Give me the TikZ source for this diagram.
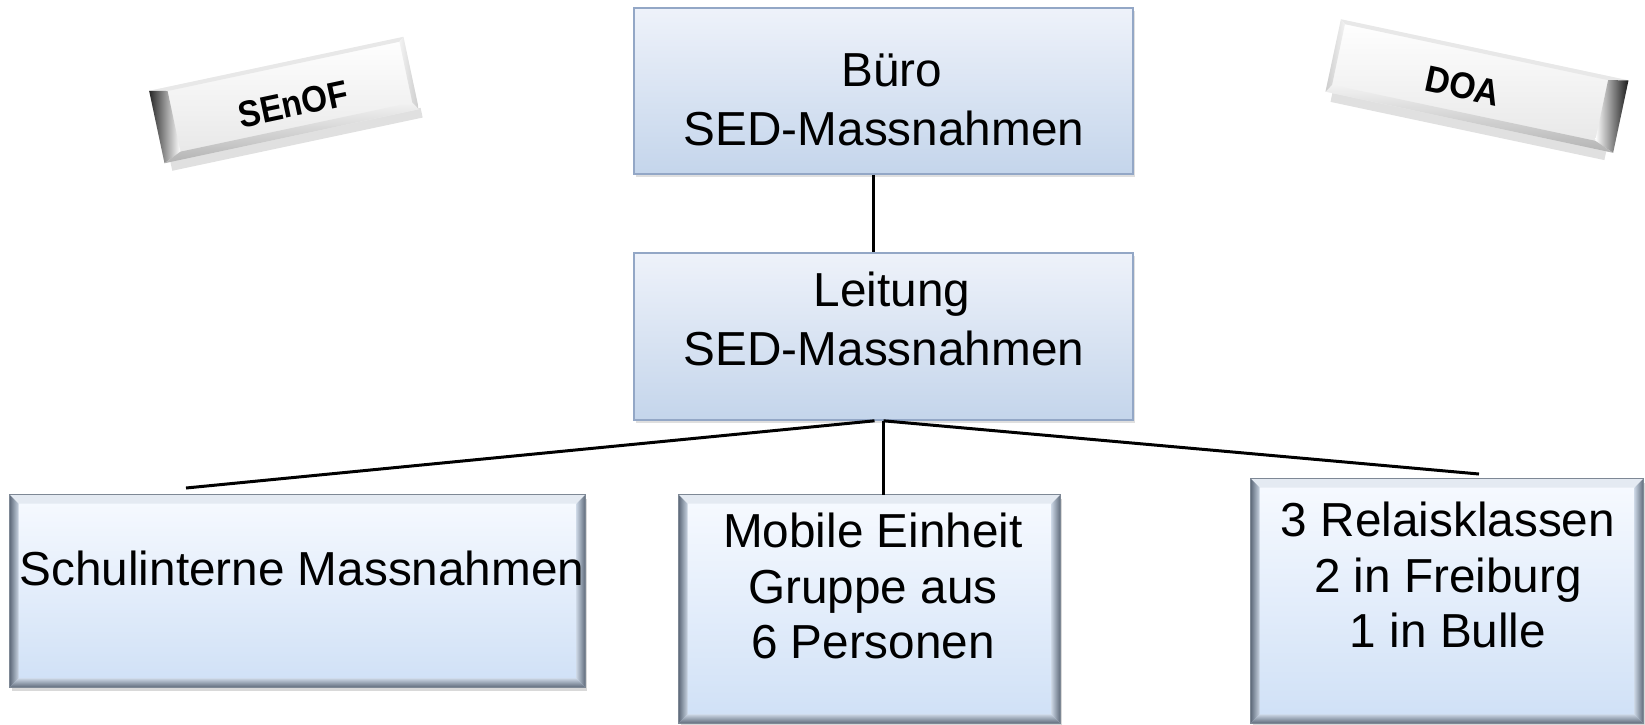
\documentclass[tikz,border=0pt]{standalone}
\usepackage{fontspec}
\usepackage{graphicx}
\setmainfont{Liberation Sans}
\usetikzlibrary{calc,shadows}
\definecolor{boxtop}{HTML}{EEF2FA}
\definecolor{boxbot}{HTML}{C4D5EB}
\definecolor{boxborder}{HTML}{93A7C6}
\definecolor{bevtop}{HTML}{F7FAFF}
\definecolor{bevbot}{HTML}{CFE0F6}
\definecolor{bevdark}{HTML}{5E6A7A}
\definecolor{bevmid}{HTML}{C9D4E2}
\definecolor{bevlight}{HTML}{E4EAF2}
\definecolor{platebot}{HTML}{E6E6E6}
\newcommand\bevelof[2]{%
  \fill[bevlight] (#1.north west) -- (#1.north east) -- ($(#1.north east)+(-#2,#2)$) -- ($(#1.north west)+(#2,#2)$) -- cycle;
  \shade[left color=bevdark, right color=bevmid] (#1.north west) -- ($(#1.north west)+(#2,#2)$) -- ($(#1.south west)+(#2,-#2)$) -- (#1.south west) -- cycle;
  \shade[left color=bevmid, right color=bevdark] (#1.north east) -- ($(#1.north east)+(-#2,#2)$) -- ($(#1.south east)+(-#2,-#2)$) -- (#1.south east) -- cycle;
  \shade[top color=bevmid, bottom color=bevdark] (#1.south west) -- ($(#1.south west)+(#2,-#2)$) -- ($(#1.south east)+(-#2,-#2)$) -- (#1.south east) -- cycle;
  \draw[bevdark!80, line width=0.5pt] (#1.north west) rectangle (#1.south east);
}
\begin{document}
\begin{tikzpicture}[x=0.5pt,y=-0.5pt,
  flatbox/.style={draw=boxborder, line width=0.8pt, top color=boxtop, bottom color=boxbot,
    inner sep=0pt, drop shadow={shadow xshift=1pt, shadow yshift=-1.5pt, opacity=0.25}},
  bevbox/.style={top color=bevtop, bottom color=bevbot, inner sep=0pt,
    drop shadow={shadow xshift=1pt, shadow yshift=-2pt, opacity=0.3}},
  txt/.style={font=\fontsize{23.85}{29.5}\selectfont, align=center, inner sep=0pt},
  txtb/.style={font=\fontsize{23.85}{27.8}\selectfont, align=center, inner sep=0pt},
  platetxt/.style={font=\bfseries\fontsize{18.5}{22}\selectfont, inner sep=0pt, transform shape},
  conn/.style={line width=1.5pt, black}]
\useasboundingbox (0,0) rectangle (1645,724);

% ---- plates ----
\begin{scope}[shift={(284,100)}, rotate=12]
  \fill[black, opacity=0.12] (-124,36) rectangle (132,46);
  \shade[top color=white, bottom color=platebot] (-130,-37) rectangle (130,37);
  \fill[gray!18] (-130,-37) -- (130,-37) -- (125,-33) -- (-112,-33) -- cycle;
  \shade[left color=black!85, right color=white] (-130,-37) -- (-112,-33) -- (-112,29) -- (-130,37) -- cycle;
  \shade[top color=gray!10, bottom color=gray!60] (-130,37) -- (-112,29) -- (125,29) -- (130,37) -- cycle;
  \shade[left color=gray!10, right color=gray!40] (130,-37) -- (125,-33) -- (125,29) -- (130,37) -- cycle;
  \node[platetxt] (senof) at (8,6) {\scalebox{0.9}[1]{SEnOF}};
\end{scope}
\begin{scope}[shift={(1477,86)}, rotate=-12]
  \fill[black, opacity=0.12] (-140,36) rectangle (140,46);
  \shade[top color=white, bottom color=platebot] (-147,-37) rectangle (147,37);
  \fill[gray!18] (-147,-37) -- (147,-37) -- (127,-33) -- (-142,-33) -- cycle;
  \shade[left color=white, right color=black!90] (147,-37) -- (127,-33) -- (127,29) -- (147,37) -- cycle;
  \shade[top color=gray!10, bottom color=gray!60] (-147,37) -- (-142,29) -- (127,29) -- (147,37) -- cycle;
  \shade[left color=gray!40, right color=gray!10] (-147,-37) -- (-142,-33) -- (-142,29) -- (-147,37) -- cycle;
  \node[platetxt] (doa) at (-14,3) {\scalebox{0.92}[1]{DOA}};
\end{scope}

% ---- flat boxes ----
\node[flatbox, minimum width=249.5pt, minimum height=83pt] (top) at (883.5,91) {};
\node[flatbox, minimum width=249.5pt, minimum height=83.5pt] (lead) at (883.5,336.5) {};
\node[txt] (toptxt) at (884,100) {\hspace*{8pt}Büro\\SED-Massnahmen};
\node[txt] (leadtxt) at (884,319) {\hspace*{8pt}Leitung\\SED-Massnahmen};

% ---- bevelled boxes ----
\node[bevbox, minimum width=287.5pt, minimum height=96pt] (left) at (297.5,591) {};
\node[bevbox, minimum width=190.5pt, minimum height=114pt] (mid) at (869.5,609) {};
\node[bevbox, minimum width=196pt, minimum height=122pt] (right) at (1447,601) {};
\bevelof{left}{9}
\bevelof{mid}{9}
\bevelof{right}{9}
\node[txtb] (lefttxt) at (302,568) {Schulinterne Massnahmen};
\node[txtb] (midtxt) at (873,586) {Mobile Einheit\\Gruppe aus\\6 Personen};
\node[txtb] (righttxt) at (1448,575) {3 Relaisklassen\\2 in Freiburg\\1 in Bulle};

% ---- connectors ----
\coordinate (lj) at (186,488);
\coordinate (rj) at (1479,474);
\draw[conn] ($(top.south)+(-10,0)$) -- ($(lead.north)+(-10,0)$);
\draw[conn] ($(lead.south)+(-9,0)$) -- (lj);
\draw[conn] (lead.south) -- (lead.south |- mid.north);
\draw[conn] (lead.south) -- (rj);
\end{tikzpicture}
\end{document}
